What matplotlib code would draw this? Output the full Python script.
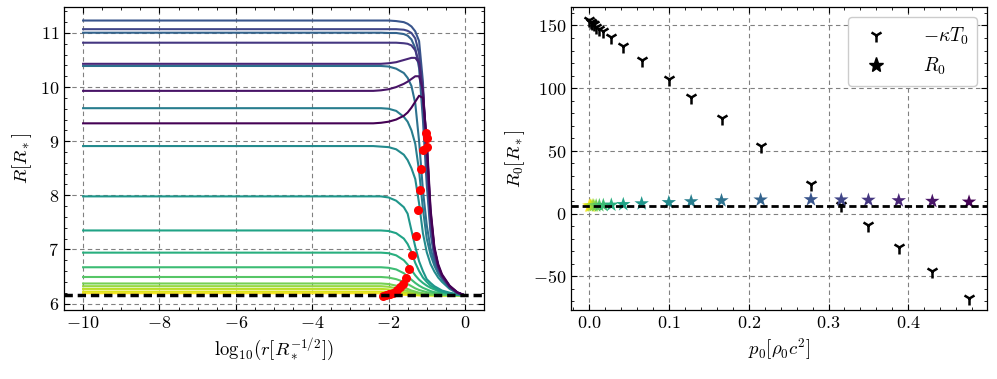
import numpy as np
import matplotlib
matplotlib.use("Agg")
import matplotlib.pyplot as plt
from matplotlib.lines import Line2D
from matplotlib.ticker import MultipleLocator

plt.rcParams.update({
    "font.family": "serif",
    "font.serif": ["cmr10"],
    "mathtext.fontset": "cm",
    "axes.formatter.use_mathtext": True,
    "axes.unicode_minus": True,
    "font.size": 13,
})

# --- left panel: R(r) profiles, one per central pressure ---
log_r = [-10, -2.4, -2.2, -2.0, -1.8, -1.6, -1.5, -1.4, -1.3, -1.2,
         -1.1, -1.0, -0.9, -0.8, -0.7, -0.6, -0.4, -0.2, 0.0]

R_curves = [
    [6.19, 6.19, 6.19, 6.18, 6.17, 6.16, 6.16, 6.155, 6.15, 6.15, 6.15, 6.15, 6.15, 6.15, 6.15, 6.15, 6.15, 6.15, 6.15],
    [6.22, 6.22, 6.22, 6.21, 6.19, 6.18, 6.17, 6.16, 6.16, 6.155, 6.15, 6.15, 6.15, 6.15, 6.15, 6.15, 6.15, 6.15, 6.15],
    [6.27, 6.27, 6.27, 6.26, 6.24, 6.21, 6.20, 6.19, 6.18, 6.17, 6.16, 6.16, 6.155, 6.15, 6.15, 6.15, 6.15, 6.15, 6.15],
    [6.32, 6.32, 6.32, 6.31, 6.28, 6.25, 6.23, 6.21, 6.20, 6.18, 6.17, 6.17, 6.16, 6.16, 6.16, 6.155, 6.15, 6.15, 6.15],
    [6.37, 6.37, 6.37, 6.36, 6.33, 6.29, 6.27, 6.24, 6.22, 6.20, 6.19, 6.18, 6.17, 6.17, 6.16, 6.16, 6.155, 6.15, 6.15],
    [6.49, 6.49, 6.49, 6.48, 6.45, 6.40, 6.36, 6.32, 6.28, 6.25, 6.23, 6.21, 6.20, 6.19, 6.18, 6.17, 6.16, 6.155, 6.15],
    [6.67, 6.67, 6.67, 6.66, 6.63, 6.56, 6.50, 6.44, 6.38, 6.33, 6.29, 6.26, 6.23, 6.21, 6.20, 6.19, 6.17, 6.16, 6.15],
    [6.94, 6.94, 6.94, 6.93, 6.89, 6.80, 6.72, 6.62, 6.52, 6.44, 6.38, 6.33, 6.29, 6.26, 6.23, 6.21, 6.18, 6.16, 6.15],
    [7.35, 7.35, 7.35, 7.34, 7.30, 7.20, 7.10, 6.95, 6.75, 6.60, 6.48, 6.40, 6.33, 6.29, 6.25, 6.22, 6.19, 6.16, 6.15],
    [7.98, 7.98, 7.98, 7.96, 7.90, 7.78, 7.66, 7.35, 7.05, 6.78, 6.60, 6.45, 6.38, 6.32, 6.28, 6.24, 6.20, 6.17, 6.15],
    [8.91, 8.91, 8.90, 8.89, 8.85, 8.75, 8.65, 8.50, 8.30, 7.85, 7.30, 6.95, 6.73, 6.59, 6.48, 6.40, 6.27, 6.19, 6.15],
    [9.61, 9.61, 9.61, 9.60, 9.56, 9.45, 9.36, 9.20, 8.95, 8.45, 7.75, 7.20, 6.90, 6.70, 6.55, 6.45, 6.29, 6.20, 6.15],
    [10.39, 10.39, 10.39, 10.38, 10.34, 10.26, 10.17, 10.02, 9.70, 9.00, 8.10, 7.45, 7.02, 6.76, 6.60, 6.48, 6.30, 6.20, 6.15],
    [11.005, 11.005, 11.005, 11.0, 11.0, 10.98, 10.95, 10.88, 10.72, 10.35, 9.40, 8.20, 7.30, 6.85, 6.61, 6.47, 6.30, 6.19, 6.15],
    [11.23, 11.23, 11.23, 11.23, 11.22, 11.20, 11.17, 11.12, 11.03, 10.85, 10.10, 8.45, 7.40, 6.90, 6.64, 6.49, 6.30, 6.20, 6.15],
    [11.07, 11.07, 11.07, 11.07, 11.07, 11.06, 11.04, 11.00, 10.90, 10.62, 9.90, 8.60, 7.50, 6.94, 6.66, 6.50, 6.31, 6.20, 6.15],
    [10.82, 10.82, 10.82, 10.82, 10.82, 10.81, 10.80, 10.77, 10.68, 10.45, 9.85, 8.75, 7.60, 6.98, 6.68, 6.51, 6.32, 6.20, 6.15],
    [10.43, 10.43, 10.43, 10.44, 10.46, 10.50, 10.52, 10.54, 10.54, 10.45, 9.92, 8.90, 7.65, 7.00, 6.69, 6.51, 6.31, 6.20, 6.15],
    [9.93, 9.93, 9.94, 9.96, 10.00, 10.06, 10.10, 10.15, 10.20, 10.20, 9.95, 8.95, 7.70, 7.02, 6.70, 6.52, 6.32, 6.20, 6.15],
    [9.33, 9.33, 9.34, 9.36, 9.40, 9.47, 9.53, 9.62, 9.73, 9.84, 9.80, 9.05, 7.75, 7.05, 6.73, 6.54, 6.33, 6.21, 6.15],
]

# red markers on the profiles
dot_x = [-1.02, -1.00, -1.00, -1.09, -1.15, -1.18, -1.22, -1.29, -1.38, -1.47,
         -1.55, -1.63, -1.70, -1.79, -1.89, -1.95, -2.00, -2.07, -2.14]
dot_y = [9.15, 9.06, 8.90, 8.84, 8.49, 8.10, 7.73, 7.24, 6.89, 6.64,
         6.47, 6.36, 6.30, 6.25, 6.20, 6.18, 6.17, 6.15, 6.13]

R_surface = 6.15

# --- right panel ---
p0 = [0.0005, 0.002, 0.004, 0.006, 0.009, 0.013, 0.018, 0.028, 0.043, 0.066,
      0.100, 0.128, 0.166, 0.215, 0.278, 0.316, 0.350, 0.388, 0.430, 0.476]
kappaT0 = [154.0, 153.0, 152.0, 151.0, 149.0, 147.5, 145.5, 140.7, 134.0, 122.5,
           107.0, 93.0, 76.0, 54.0, 23.8, 6.5, -9.2, -26.8, -46.0, -67.4]
R0 = [c[0] for c in R_curves]

cmap = plt.get_cmap("viridis_r")
n = len(R_curves)
colors = [cmap(i / (n - 1)) for i in range(n)]

fig = plt.figure(figsize=(9.97, 3.79), dpi=100)
ax1 = fig.add_axes([64 / 997, 69 / 379, 420 / 997, 303 / 379])
ax2 = fig.add_axes([571 / 997, 69 / 379, 416 / 997, 303 / 379])

grid_kw = dict(color="0.5", linestyle=(0, (4, 3)), linewidth=0.8)

for i, prof in enumerate(R_curves):
    ax1.plot(log_r, prof, color=colors[i], lw=1.5, zorder=2)
ax1.plot(dot_x, dot_y, "o", color="red", ms=6.5, mec="none", zorder=3)
ax1.axhline(R_surface, color="black", lw=2.5, linestyle=(0, (2.4, 1.4)), zorder=4)

ax1.set_xlim(-10.5, 0.5)
ax1.set_ylim(5.88, 11.48)
ax1.xaxis.set_major_locator(MultipleLocator(2))
ax1.xaxis.set_minor_locator(MultipleLocator(0.5))
ax1.yaxis.set_major_locator(MultipleLocator(1))
ax1.yaxis.set_minor_locator(MultipleLocator(0.2))
ax1.set_xlabel(r"$\mathrm{log}_{10}(r[R_*^{-1/2}])$", fontsize=13.5)
ax1.set_ylabel(r"$R[R_*]$", fontsize=13.5)

ax2.plot(p0, kappaT0, linestyle="none", marker="1", color="black", ms=9.5, mew=1.8, zorder=3)
ax2.scatter(p0, R0, marker="*", c=colors, s=120, linewidths=0, zorder=3)
ax2.axhline(R_surface, color="black", lw=2.0, linestyle=(0, (2.6, 1.4)), zorder=4)
ax2.set_xlim(-0.0225, 0.4985)
ax2.set_ylim(-76.8, 164.7)
ax2.xaxis.set_major_locator(MultipleLocator(0.1))
ax2.xaxis.set_minor_locator(MultipleLocator(0.02))
ax2.yaxis.set_major_locator(MultipleLocator(50))
ax2.yaxis.set_minor_locator(MultipleLocator(10))
ax2.set_xlabel(r"$p_0[\rho_0 c^2]$", fontsize=13.5)
ax2.set_ylabel(r"$R_0[R_*]$", fontsize=13.5)

handles = [
    Line2D([], [], linestyle="none", marker="1", color="black", ms=9.5, mew=1.8),
    Line2D([], [], linestyle="none", marker="*", color="black", ms=11),
]
ax2.legend(handles, [r"$-\kappa T_0$", r"$R_0$"], loc="upper right", fontsize=14,
           frameon=True, fancybox=True, edgecolor="0.8", framealpha=1.0,
           handletextpad=1.4, borderpad=0.45, labelspacing=0.45,
           borderaxespad=0.5)

for ax in (ax1, ax2):
    ax.grid(True, which="major", **grid_kw)
    ax.set_axisbelow(True)
    ax.tick_params(which="both", direction="in", top=True, right=True)
    ax.tick_params(which="major", length=4.5, width=0.8)
    ax.tick_params(which="minor", length=2.3, width=0.6)
    for s in ax.spines.values():
        s.set_linewidth(0.9)

fig.savefig("out.png", dpi=100)
